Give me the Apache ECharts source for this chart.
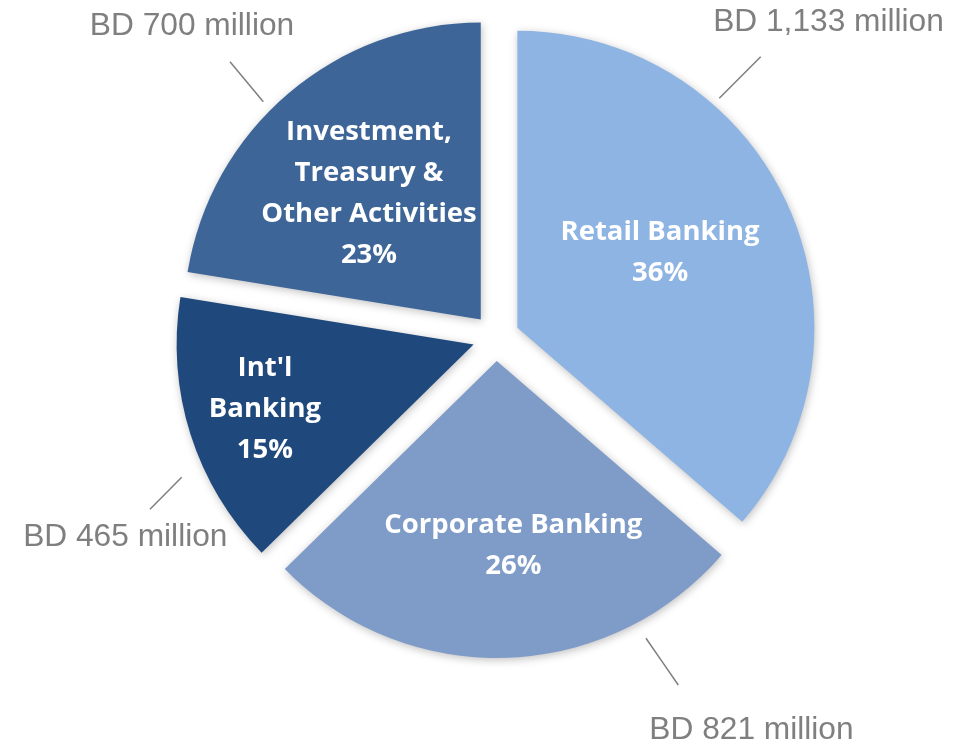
<!DOCTYPE html>
<html>
<head>
<meta charset="utf-8">
<title>Segment breakdown</title>
<script src="https://cdn.jsdelivr.net/npm/echarts@6/dist/echarts.min.js"></script>
<style>
  html, body { margin: 0; padding: 0; background: #ffffff; }
  #chart { width: 968px; height: 748px; }
</style>
</head>
<body>
<div id="chart"></div>
<script>
// ---- Data ----
const segments = ['Retail Banking', 'Corporate Banking', "Int'l\nBanking", 'Investment,\nTreasury &\nOther Activities'];
const amounts = [1133, 821, 465, 700];            // BD million
const shareLabels = ['36%', '26%', '15%', '23%'];

// ---- Styling / layout ----
const colors = ['#8EB4E3', '#7F9CC8', '#1F497D', '#3D6598'];
const CENTER = [496, 337.5];
const RADIUS = 297;
const EXPLODE = 23.5;
// label anchors as [angle clockwise from 12 o'clock, distance from centre]
const innerLabelPolar = [[62.7, 184.6], [175.25, 209], [252.85, 241.8], [318.54, 191.8]];
const outerLabelPolar = [[46.55, 458], [146.94, 468.3], [241.65, 421.2], [315.72, 435.4]];
const leaderPolar = [
  [[43.03, 327.2], [43.31, 385.9]],
  [[153.5, 336.1], [152.32, 392.4]],
  [[246.02, 344.0], [243.6, 386.3]],
  [[315.38, 331.3], [316.04, 383.2]]
];

function polar(deg, r) {
  const a = deg * Math.PI / 180;
  return [CENTER[0] + r * Math.sin(a), CENTER[1] - r * Math.cos(a)];
}

const formatAmount = v => 'BD ' + v.toLocaleString('en-US') + ' million';

const sliceData = segments.map((name, i) => ({
  name: name,
  value: amounts[i],
  selected: true,
  itemStyle: { color: colors[i] }
}));

const ghostData = segments.map((name, i) => ({
  name: name,
  value: amounts[i],
  itemStyle: { color: 'rgba(0,0,0,0)' }
}));

const basePie = {
  type: 'pie',
  center: CENTER,
  radius: RADIUS,
  startAngle: 90,
  clockwise: true,
  avoidLabelOverlap: false,
  animation: false,
  silent: true,
  emphasis: { disabled: true }
};

const chart = echarts.init(document.getElementById('chart'), null, { renderer: 'canvas' });

chart.setOption({
  backgroundColor: '#ffffff',
  series: [
    Object.assign({}, basePie, {
      name: 'slices',
      selectedMode: 'multiple',
      selectedOffset: EXPLODE,
      data: sliceData,
      label: { show: false },
      labelLine: { show: false },
      itemStyle: {
        borderWidth: 0,
        shadowBlur: 9,
        shadowColor: 'rgba(0,0,0,0.25)',
        shadowOffsetX: 1,
        shadowOffsetY: 2
      },
      z: 1
    }),
    Object.assign({}, basePie, {
      name: 'shares',
      data: ghostData,
      itemStyle: { borderWidth: 0 },
      label: {
        show: true,
        position: 'inside',
        formatter: p => segments[p.dataIndex] + '\n' + shareLabels[p.dataIndex],
        color: '#ffffff',
        fontFamily: 'Open Sans',
        fontWeight: 'bold',
        fontSize: 27.5,
        lineHeight: 41,
        align: 'center'
      },
      labelLine: { show: false },
      labelLayout: p => {
        const pt = polar(innerLabelPolar[p.dataIndex][0], innerLabelPolar[p.dataIndex][1]);
        return { x: pt[0], y: pt[1], align: 'center', verticalAlign: 'middle' };
      },
      z: 3
    }),
    Object.assign({}, basePie, {
      name: 'amounts',
      data: ghostData,
      itemStyle: { borderWidth: 0 },
      label: {
        show: true,
        position: 'outside',
        formatter: p => formatAmount(amounts[p.dataIndex]),
        color: '#7F7F7F',
        fontFamily: 'Liberation Sans',
        fontSize: 31.7
      },
      labelLine: {
        show: true,
        lineStyle: { color: '#7F7F7F', width: 1.5 }
      },
      labelLayout: p => {
        const i = p.dataIndex;
        const pt = polar(outerLabelPolar[i][0], outerLabelPolar[i][1]);
        const a = polar(leaderPolar[i][0][0], leaderPolar[i][0][1]);
        const b = polar(leaderPolar[i][1][0], leaderPolar[i][1][1]);
        const m = [(a[0] + b[0]) / 2, (a[1] + b[1]) / 2];
        return {
          x: pt[0], y: pt[1], align: 'center', verticalAlign: 'middle',
          labelLinePoints: [a, m, b]
        };
      },
      z: 3
    })
  ]
});
</script>
</body>
</html>
